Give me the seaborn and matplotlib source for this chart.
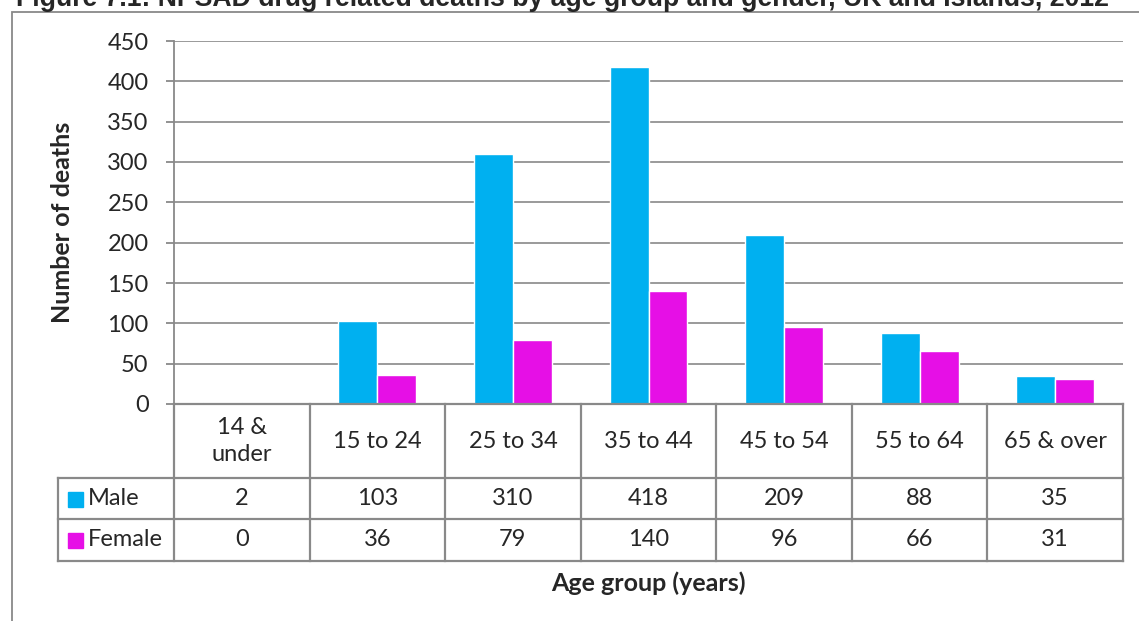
import seaborn as sns
import matplotlib.pyplot as plt
import pandas as pd
from matplotlib.patches import Rectangle

# data
age_groups = ["14 &\nunder", "15 to 24", "25 to 34", "35 to 44", "45 to 54", "55 to 64", "65 & over"]
male = [2, 103, 310, 418, 209, 88, 35]
female = [0, 36, 79, 140, 96, 66, 31]
series = ["Male", "Female"]
colors = ["#00B0F0", "#E60FE6"]

df = pd.DataFrame({
    "age": age_groups * 2,
    "deaths": male + female,
    "sex": ["Male"] * len(male) + ["Female"] * len(female),
})

sns.set_style("white")
plt.rcParams['font.family'] = ['Lato', 'DejaVu Sans']

W, H = 1139, 621
fig = plt.figure(figsize=(W / 100, H / 100), dpi=100)

def fx(px):
    return px / W

def fy(px):
    return 1 - px / H

grey = "#898989"
left, right, top, base, tbot = 174, 1123, 41, 404, 561
fs = 17

# outer chart border
fig.add_artist(Rectangle((fx(12), -0.05), 1.2, fy(12) + 0.05, transform=fig.transFigure,
                         fill=False, edgecolor=grey, lw=1.3))

# title is cut off at the top edge in the original
fig.text(fx(562), fy(6), "Figure 7.1: NPSAD drug related deaths by age group and gender, UK and Islands, 2012",
         ha="center", va="baseline", fontsize=19.2, fontweight="bold", family="Liberation Sans")

ax = fig.add_axes([fx(left), fy(base), fx(right - left), (base - top) / H])
sns.barplot(data=df, x="age", y="deaths", hue="sex", palette=colors, width=0.575,
            saturation=1, legend=False, ax=ax, zorder=3)
ax.set_xlim(-0.5, 6.5)
ax.set_ylim(0, 450)
ax.set_yticks(range(0, 451, 50))
ax.yaxis.grid(True, color=grey, lw=1.2)
ax.set_axisbelow(True)
for s in ["top", "right", "bottom"]:
    ax.spines[s].set_visible(False)
ax.spines["left"].set_color(grey)
ax.spines["left"].set_linewidth(1.3)
ax.tick_params(axis="y", left=True, length=5.8, width=1.3, color=grey, labelsize=fs, pad=12.5)
ax.tick_params(axis="x", bottom=False, labelbottom=False)
ax.set_xlabel("")
ax.set_ylabel("")

fig.text(fx(63), fy((top + base) / 2), "Number of deaths", rotation=90, ha="center", va="center",
         fontsize=18, fontweight="bold")
fig.text(fx((left + right) / 2), fy(583), "Age group (years)", ha="center", va="center",
         fontsize=18, fontweight="bold")

# data table under the plot
tax = fig.add_axes([fx(left), fy(tbot), fx(right - left), (tbot - base) / H])
tax.set_xlim(-0.5, 6.5)
tax.set_ylim(tbot - base, 0)
tax.axis("off")
colw = (right - left) / 7
x0 = -0.5 - (left - 58) / colw
r1, r2, r3 = 74, 115, 157
lk = dict(color=grey, lw=1.6, clip_on=False, solid_capstyle="projecting")
tax.plot([-0.5, 6.5], [0, 0], **lk)
for y in [r1, r2, r3]:
    tax.plot([x0, 6.5], [y, y], **lk)
for i in range(8):
    tax.plot([i - 0.5, i - 0.5], [0, r3], **lk)
tax.plot([x0, x0], [r1, r3], **lk)

for i, lab in enumerate(age_groups):
    tax.text(i, r1 / 2, lab, ha="center", va="center", fontsize=fs, linespacing=1.35)
for row, (vals, name, c) in enumerate(zip([male, female], series, colors)):
    yc = (r1 + r2) / 2 if row == 0 else (r2 + r3) / 2
    for i, v in enumerate(vals):
        tax.text(i, yc, str(v), ha="center", va="center", fontsize=fs)
    tax.plot([x0 + 16.5 / colw], [yc], marker="s", ms=10.8, color=c, clip_on=False, ls="none")
    tax.text(x0 + 30 / colw, yc, name, ha="left", va="center", fontsize=fs)

fig.savefig("out.png", dpi=100)
